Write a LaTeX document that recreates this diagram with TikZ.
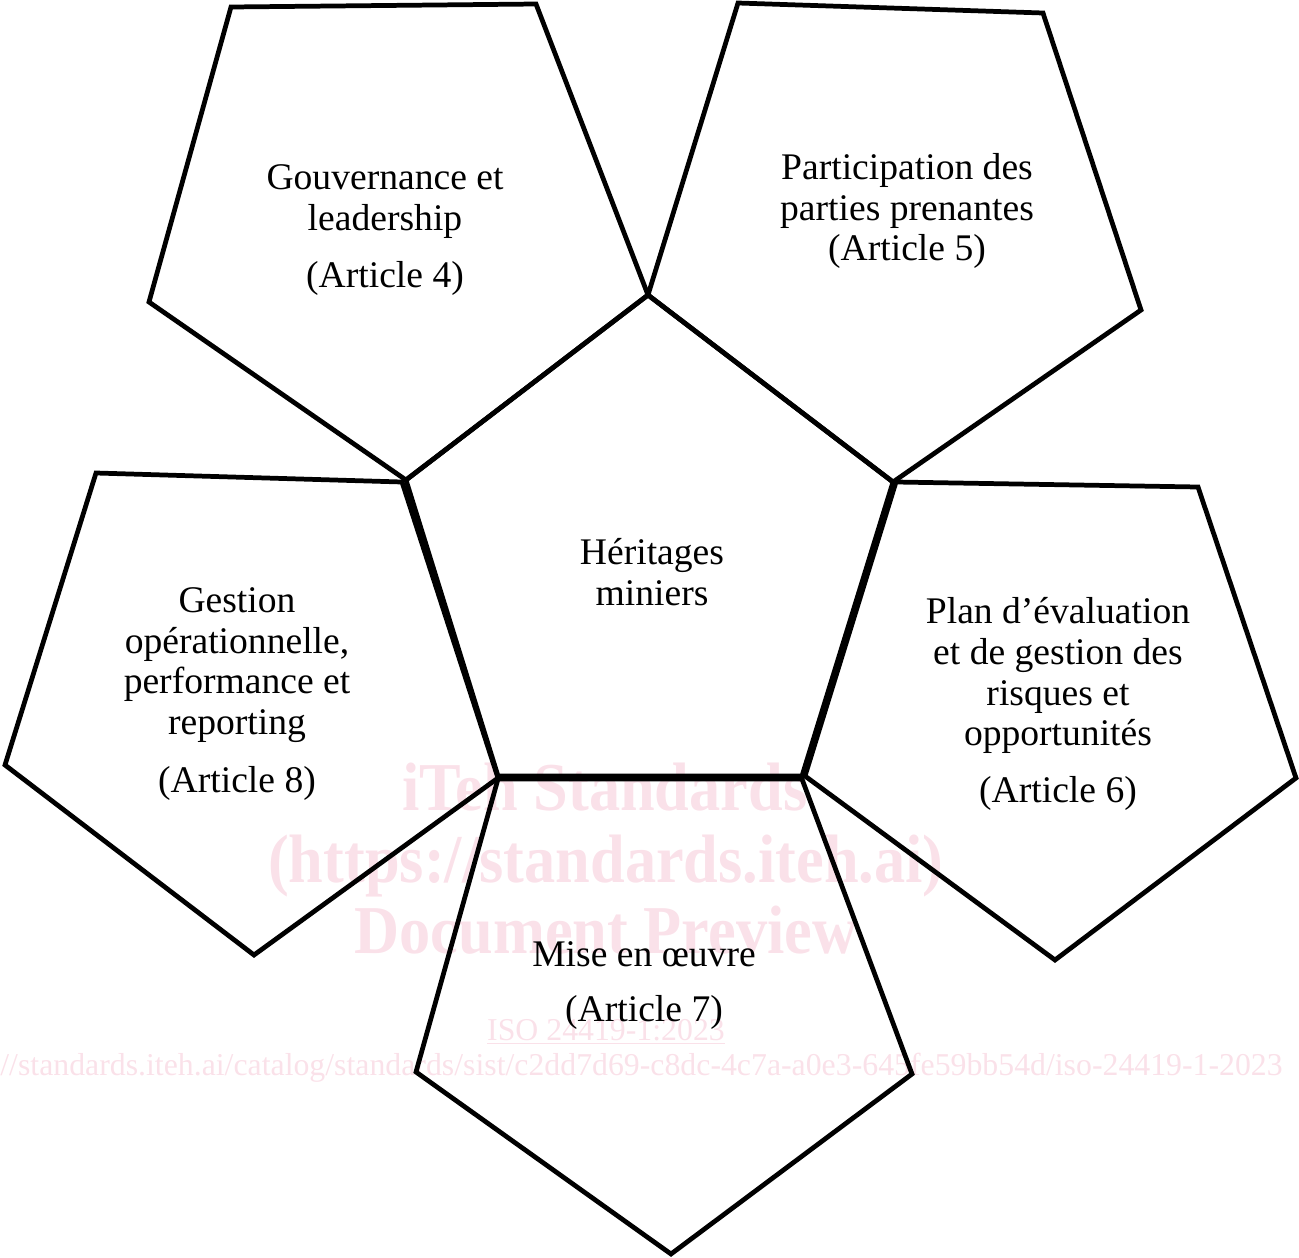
\documentclass[tikz,border=0pt]{standalone}
\usepackage{fontspec}
\setmainfont{Liberation Serif}
\definecolor{wm}{RGB}{250,225,233}
\begin{document}
\begin{tikzpicture}[x=0.02cm,y=-0.02cm,
  pent/.style={draw=black,line width=2.7pt,line join=miter},
  lbl/.style={align=center,inner sep=0pt,anchor=north,font=\fontsize{21.4}{23.2}\selectfont},
  wmb/.style={text=wm,inner sep=0pt,anchor=base,font=\bfseries\fontsize{39}{39}\selectfont},
  wmr/.style={text=wm,inner sep=0pt,font=\fontsize{18.1}{18.1}\selectfont}]
\useasboundingbox (0,0) rectangle (1299,1258);
% watermark
\begin{scope}
\clip (0,0) rectangle (1299,1258);
\node[wmb] (w1) at (605,810) {\scalebox{0.91}[1]{iTeh Standards}};
\node[wmb] (w2) at (606,882) {\scalebox{0.91}[1]{(https://standards.iteh.ai)}};
\node[wmb] (w3) at (606,953) {\scalebox{0.91}[1]{Document Preview}};
\node[wmr,anchor=base] (w4) at (606,1040) {\underline{ISO 24419-1:2023}};
\node[wmr,anchor=base east] (w5) at (1283,1075) {https://standards.iteh.ai/catalog/standards/sist/c2dd7d69-c8dc-4c7a-a0e3-645fe59bb54d/iso-24419-1-2023};
\end{scope}
% vertices
\coordinate (c1) at (648,295);
\coordinate (c2) at (893,482);
\coordinate (c3) at (802,776);
\coordinate (c4) at (498,776);
\coordinate (c5) at (406,480);
% pentagons
\draw[pent] (c1) -- (c2) -- (c3) -- (c4) -- (c5) -- cycle;
\draw[pent] (231,7) -- (536,4) -- (c1) -- (c5) -- (149,302) -- cycle;
\draw[pent] (738,3) -- (1043,13) -- (1141,310) -- (c2) -- (c1) -- cycle;
\draw[pent] (96,473) -- (402,482) -- (498,778) -- (254,955) -- (5,765) -- cycle;
\draw[pent] (896,482) -- (1198,487) -- (1296,778) -- (1055,960) -- (805,776) -- cycle;
\draw[pent] (498,779) -- (802,779) -- (912,1074) -- (671,1254) -- (416,1072) -- cycle;
% labels
\node[lbl] (tl) at (385,164) {Gouvernance et\\leadership\\[0.34cm](Article 4)};
\node[lbl] (tr) at (907,153) {Participation des\\parties prenantes\\(Article 5)};
\node[lbl] (ctr) at (652,538) {Héritages\\miniers};
\node[lbl] (lf) at (237,587) {Gestion\\opérationnelle,\\performance et\\reporting\\[0.34cm](Article 8)};
\node[lbl] (rt) at (1058,597) {Plan d’évaluation\\et de gestion des\\risques et\\opportunités\\[0.32cm](Article 6)};
\node[lbl] (bt) at (644,941) {Mise en œuvre\\[0.28cm](Article 7)};
\end{tikzpicture}
\end{document}
